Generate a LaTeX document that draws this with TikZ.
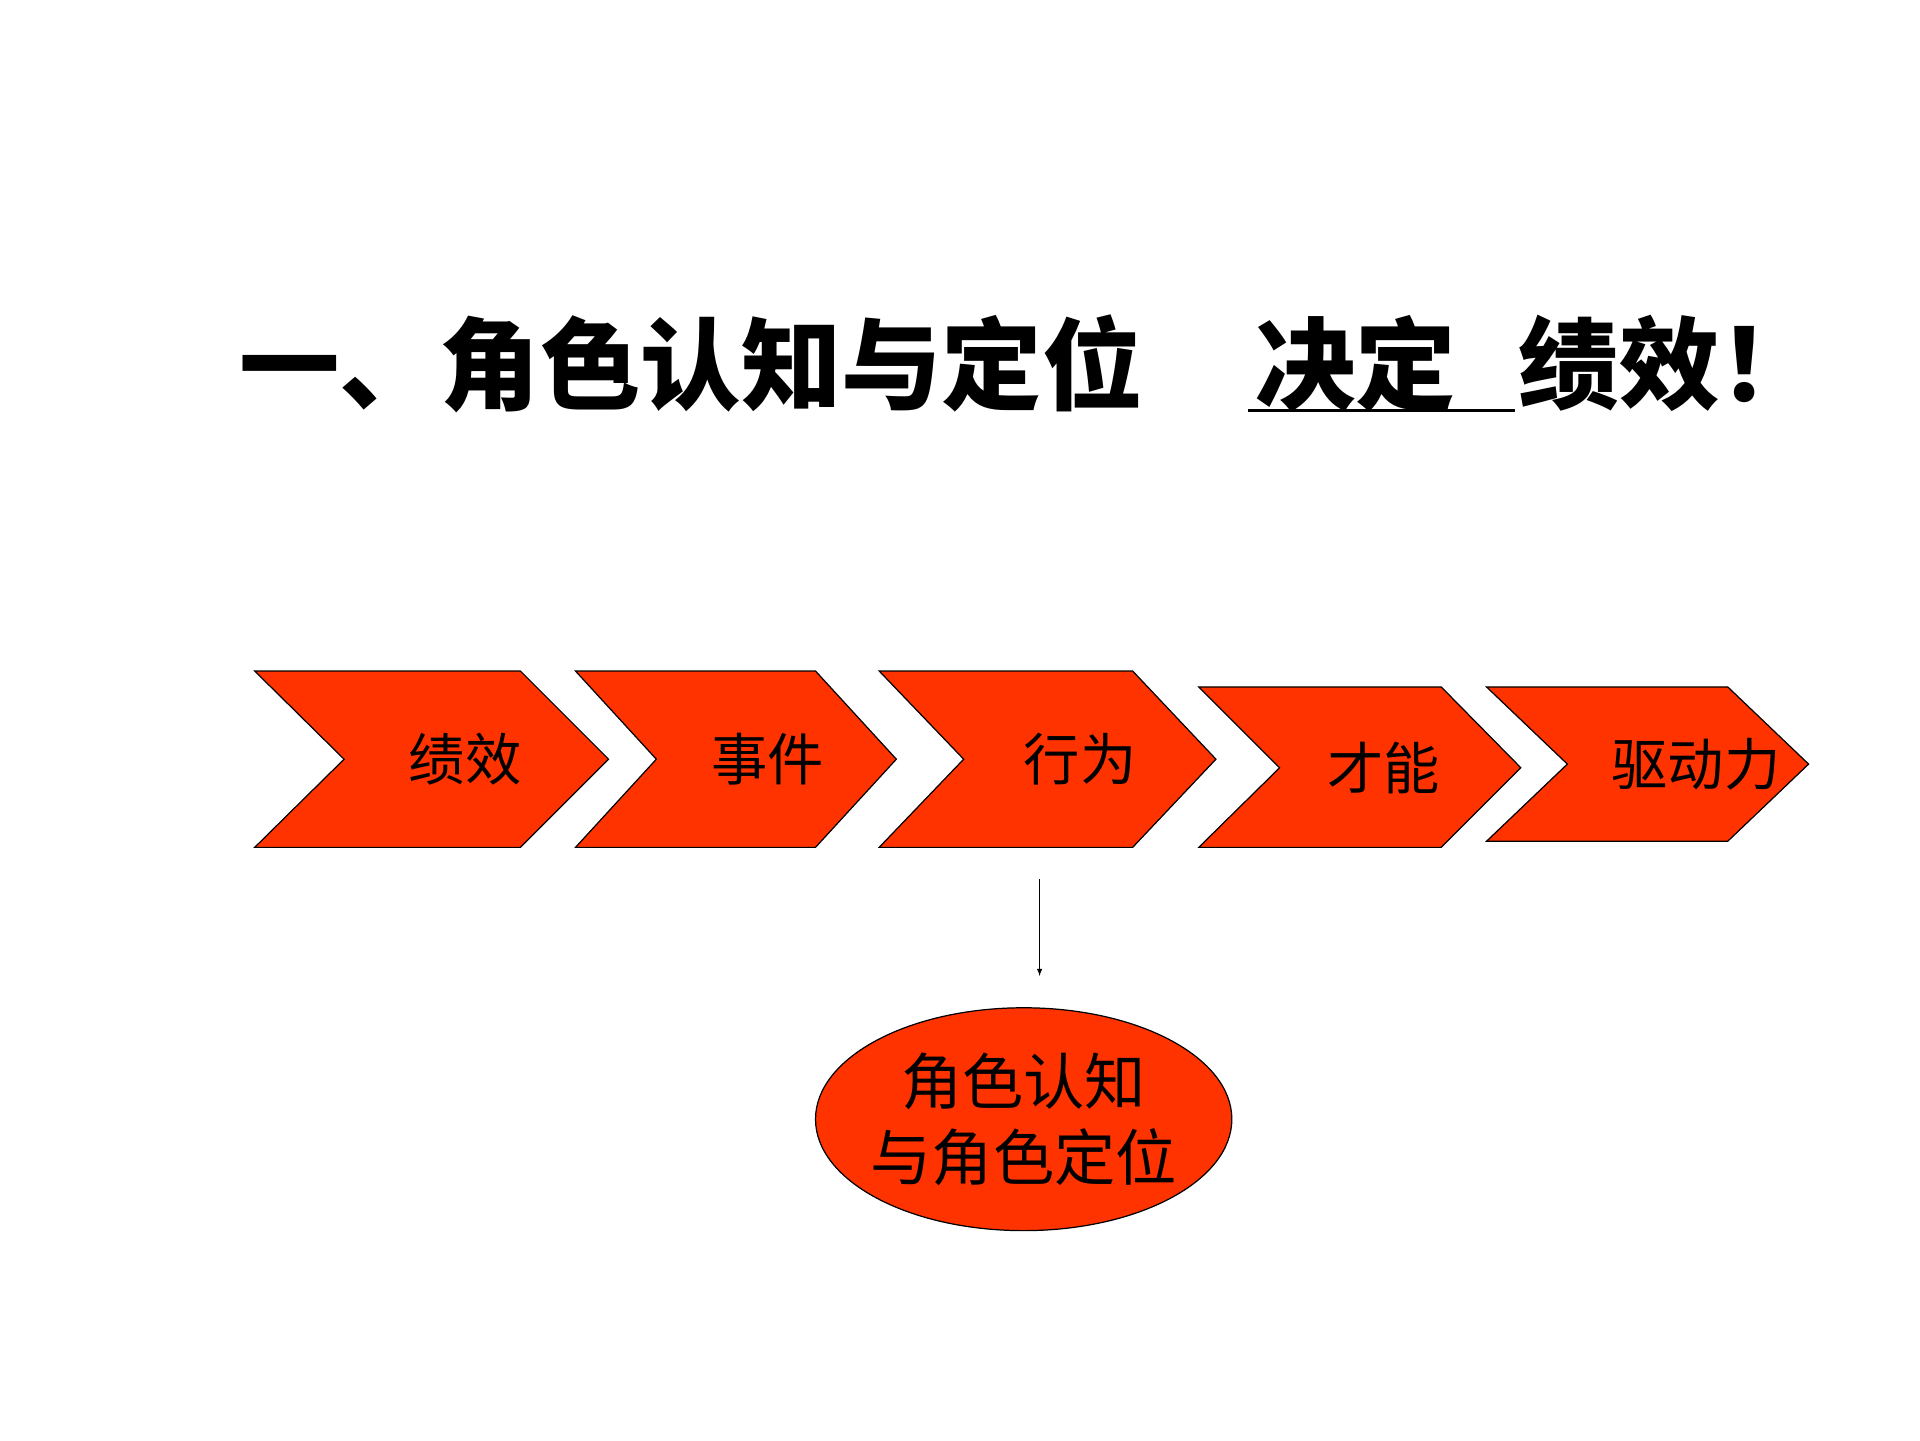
\documentclass[tikz,border=0pt]{standalone}
\usepackage{fontspec}
\usetikzlibrary{shapes.geometric}
\newfontfamily\cjk{Noto Sans CJK SC}
\begin{document}
\begin{tikzpicture}[x=1pt,y=-1pt,
  chev/.style={fill=cheva,draw=black,line width=1pt},
  lab/.style={font=\cjk\fontsize{46}{50}\selectfont,inner sep=0},
  ttl/.style={font=\cjk\bfseries\fontsize{82}{90}\selectfont,inner sep=0,anchor=west}]
\definecolor{cheva}{HTML}{FF3300}
\useasboundingbox (0,0) rectangle (1568,1176);
\fill[white] (0,0) rectangle (1568,1176);
\node[ttl] (t1) at (195,297) {一、角色认知与定位};
\node[ttl] (t2) at (1025,297) {决定};
\node[ttl] (t3) at (1240,297) {绩效！};
\draw[line width=2.5pt] (1019,335) -- (1237,335);
\draw[chev] (208,548)--(425,548)--(497,620)--(425,692)--(208,692)--(281,620)--cycle;
\draw[chev] (470,548)--(666,548)--(732,620)--(666,692)--(470,692)--(536,620)--cycle;
\draw[chev] (718,548)--(925,548)--(993,620)--(925,692)--(718,692)--(787,620)--cycle;
\draw[chev] (979,561)--(1177,561)--(1242,627)--(1177,692)--(979,692)--(1045,627)--cycle;
\draw[chev] (1214,561)--(1411,561)--(1477,624)--(1411,687)--(1214,687)--(1280,624)--cycle;
\node[lab] (a) at (380,620) {绩效};
\node[lab] (b) at (627,620) {事件};
\node[lab] (c) at (882,620) {行为};
\node[lab] (d) at (1130,627) {才能};
\node[lab] (e) at (1385,624) {驱动力};
\coordinate (s) at (849,718);
\node[ellipse,draw=black,line width=1pt,fill=cheva,minimum width=340,minimum height=182,inner sep=0] (el) at (836,914) {};
\node[lab,align=center,font=\cjk\fontsize{50}{62}\selectfont] at (el.center) {角色认知\\与角色定位};
\coordinate (t) at (849,797);
\draw[-latex,line width=1pt] (s) -- (t);
\end{tikzpicture}
\end{document}
